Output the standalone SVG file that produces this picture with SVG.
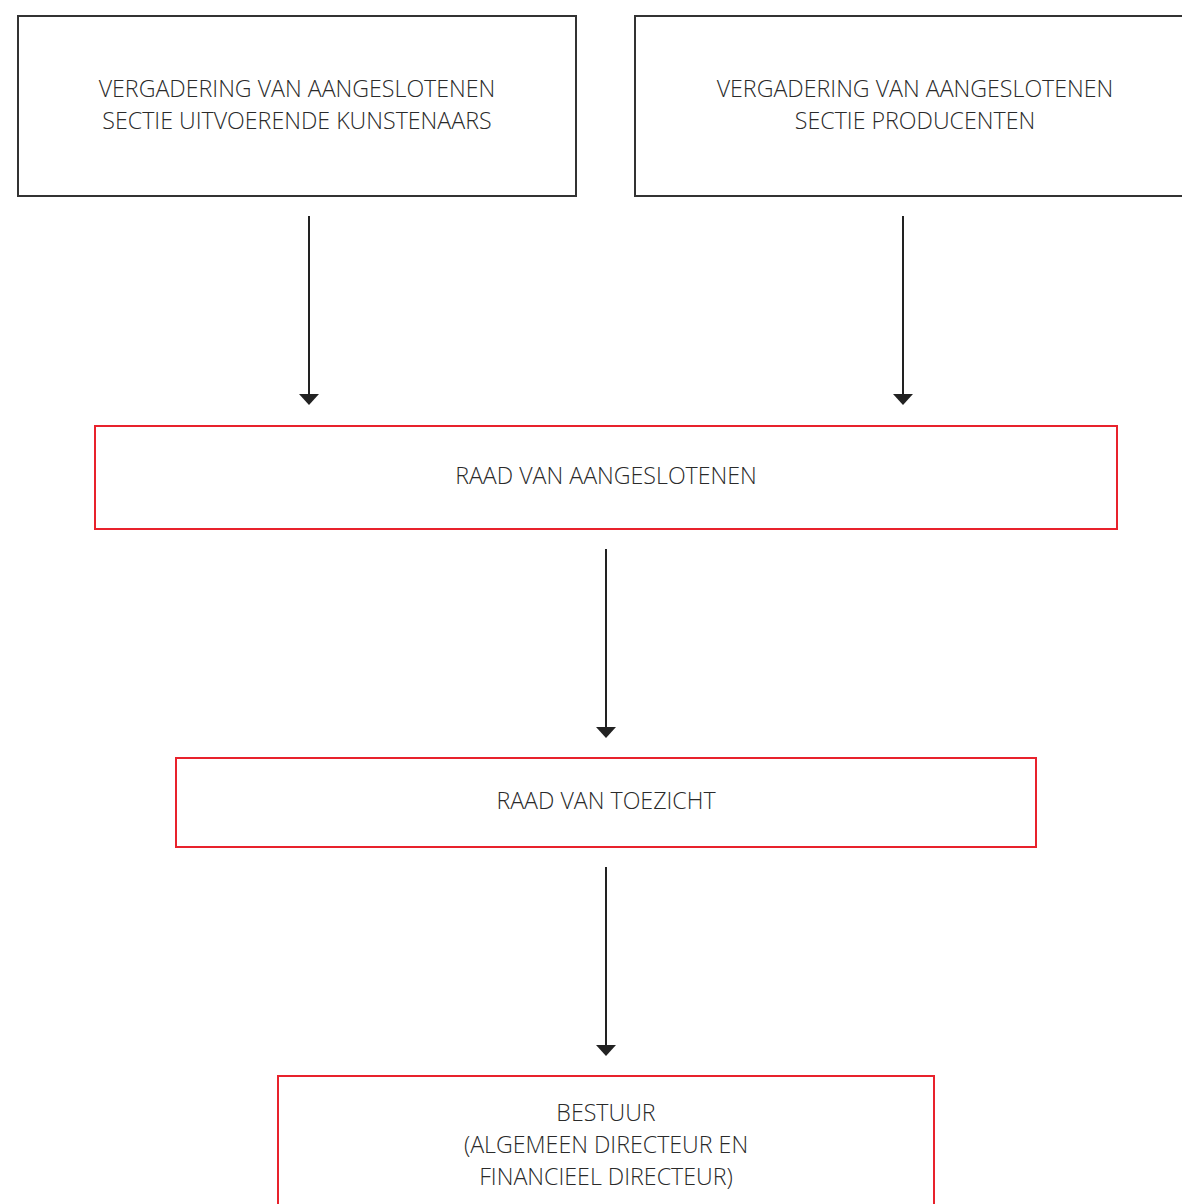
<svg xmlns="http://www.w3.org/2000/svg" width="1182" height="1204" viewBox="0 0 1182 1204">
<style>
.blk{fill:#fff;stroke:#333;stroke-width:2}
.red{fill:#fff;stroke:#e8222c;stroke-width:2}
text{font-family:"Open Sans","Liberation Sans",sans-serif;font-size:23.2px;font-weight:300;fill:#2a2a2a;text-anchor:middle}
.con{stroke:#222;stroke-width:2;fill:none}
.ah{fill:#222}
</style>
<g id="n1"><rect class="blk" x="18" y="16" width="558" height="180"/>
<text x="297" y="97">VERGADERING VAN AANGESLOTENEN</text>
<text x="297" y="129">SECTIE UITVOERENDE KUNSTENAARS</text></g>
<g id="n2"><rect class="blk" x="635" y="16" width="560" height="180"/>
<text x="915" y="97">VERGADERING VAN AANGESLOTENEN</text>
<text x="915" y="129">SECTIE PRODUCENTEN</text></g>
<g id="n3"><rect class="red" x="95" y="426" width="1022" height="103"/>
<text x="606" y="484">RAAD VAN AANGESLOTENEN</text></g>
<g id="n4"><rect class="red" x="176" y="758" width="860" height="89"/>
<text x="606" y="809">RAAD VAN TOEZICHT</text></g>
<g id="n5"><rect class="red" x="278" y="1076" width="656" height="140"/>
<text x="606" y="1121">BESTUUR</text>
<text x="606" y="1153">(ALGEMEEN DIRECTEUR EN</text>
<text x="606" y="1185">FINANCIEEL DIRECTEUR)</text></g>
<g id="connectors">
<path d="M309,216 V394" class="con"/><path class="ah" d="M299,394 L319,394 L309,405 Z"/>
<path d="M903,216 V394" class="con"/><path class="ah" d="M893,394 L913,394 L903,405 Z"/>
<path d="M606,549 V727" class="con"/><path class="ah" d="M596,727 L616,727 L606,738 Z"/>
<path d="M606,867 V1045" class="con"/><path class="ah" d="M596,1045 L616,1045 L606,1056 Z"/>
</g>
</svg>
